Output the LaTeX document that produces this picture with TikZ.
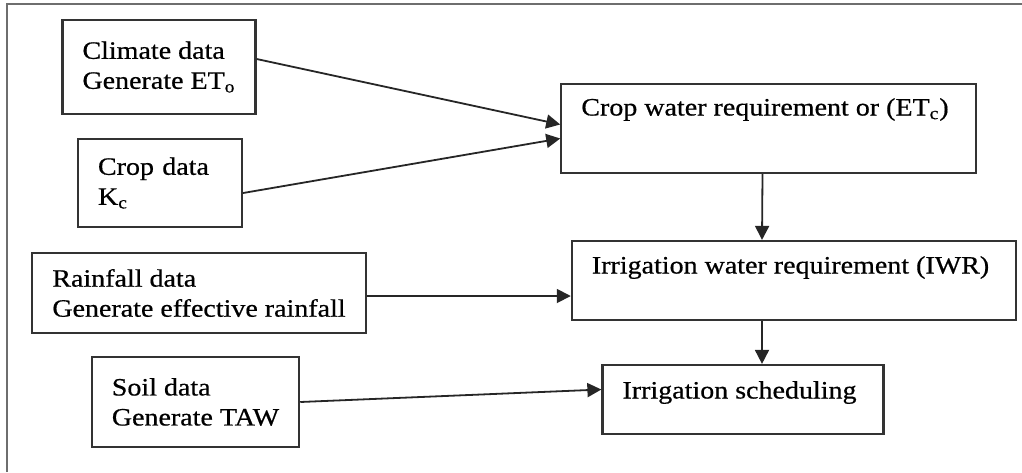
\documentclass[tikz,border=0pt]{standalone}
\usepackage{fontspec}
\setmainfont{Liberation Serif}[FakeStretch=1.12, FakeBold=0.6]
\usetikzlibrary{arrows.meta}

\definecolor{boxline}{HTML}{333333}
\definecolor{frameline}{HTML}{6E6E6E}

\begin{document}
\begin{tikzpicture}[
    x=0.5pt, y=-0.5pt,
    box/.style={
        rectangle, draw=boxline, line width=1.1pt,
        align=left, inner xsep=10pt, inner ysep=0pt,
        font=\fontsize{12.5}{15}\selectfont
    },
    feed/.style={
        line width=0.9pt, draw=black!85,
        -{Triangle[length=7pt, width=7pt]}
    }
]
    \useasboundingbox (0,0) rectangle (1022,472);

    % Frame ===========================
    \draw[frameline, line width=1pt] (7,472) -- (7,4) -- (1022,4);

    % The 4 Input Boxes ===========================
    \node[box, minimum width=93pt, minimum height=47pt] (Climate) at (159,67) {
        Climate data\\
        Generate ET\textsubscript{o}
    };

    \node[box, text width=62pt, minimum height=44pt] (CropData) at (160,183) {
        Crop data\\
        K\textsubscript{c}
    };

    \node[box, minimum width=164pt, minimum height=40pt] (Rainfall) at (199,293) {
        Rainfall data\\
        Generate effective rainfall
    };

    \node[box, minimum width=101.5pt, minimum height=45pt] (Soil) at (195.5,402) {
        Soil data\\
        Generate TAW
    };

    % The 3 Result Boxes ===========================
    \node[box, minimum width=203.5pt, minimum height=44.5pt,
          text height=9pt, text depth=22pt] (CropWater) at (768.5,128.5) {
        Crop water requirement or (ET\textsubscript{c})
    };

    \node[box, minimum width=220pt, minimum height=39.5pt,
          text height=9pt, text depth=16pt] (IWR) at (794,280.5) {
        Irrigation water requirement (IWR)
    };

    \node[box, minimum width=137pt, minimum height=34.5pt,
          text height=9pt, text depth=10pt] (Scheduling) at (743,399.5) {
        Irrigation scheduling
    };

    % Arrows ====================
    % Data into the requirement boxes
    \draw[feed] ([yshift=4pt]Climate.east) -- ([yshift=2pt]CropWater.west);
    \draw[feed] ([yshift=-5pt]CropData.east) -- ([yshift=-5pt]CropWater.west);
    \draw[feed] ([yshift=-1.5pt]Rainfall.east) -- ([yshift=-1.5pt]Rainfall.east -| IWR.west);
    \draw[feed] (Soil.east) -- ([yshift=5pt]Scheduling.west);

    % Down the right column
    \draw[feed] ([xshift=-3pt]CropWater.south) -- ([xshift=-16pt]IWR.north);
    \draw[feed] ([xshift=-16pt]IWR.south) -- ([xshift=9.5pt]Scheduling.north);

\end{tikzpicture}
\end{document}
